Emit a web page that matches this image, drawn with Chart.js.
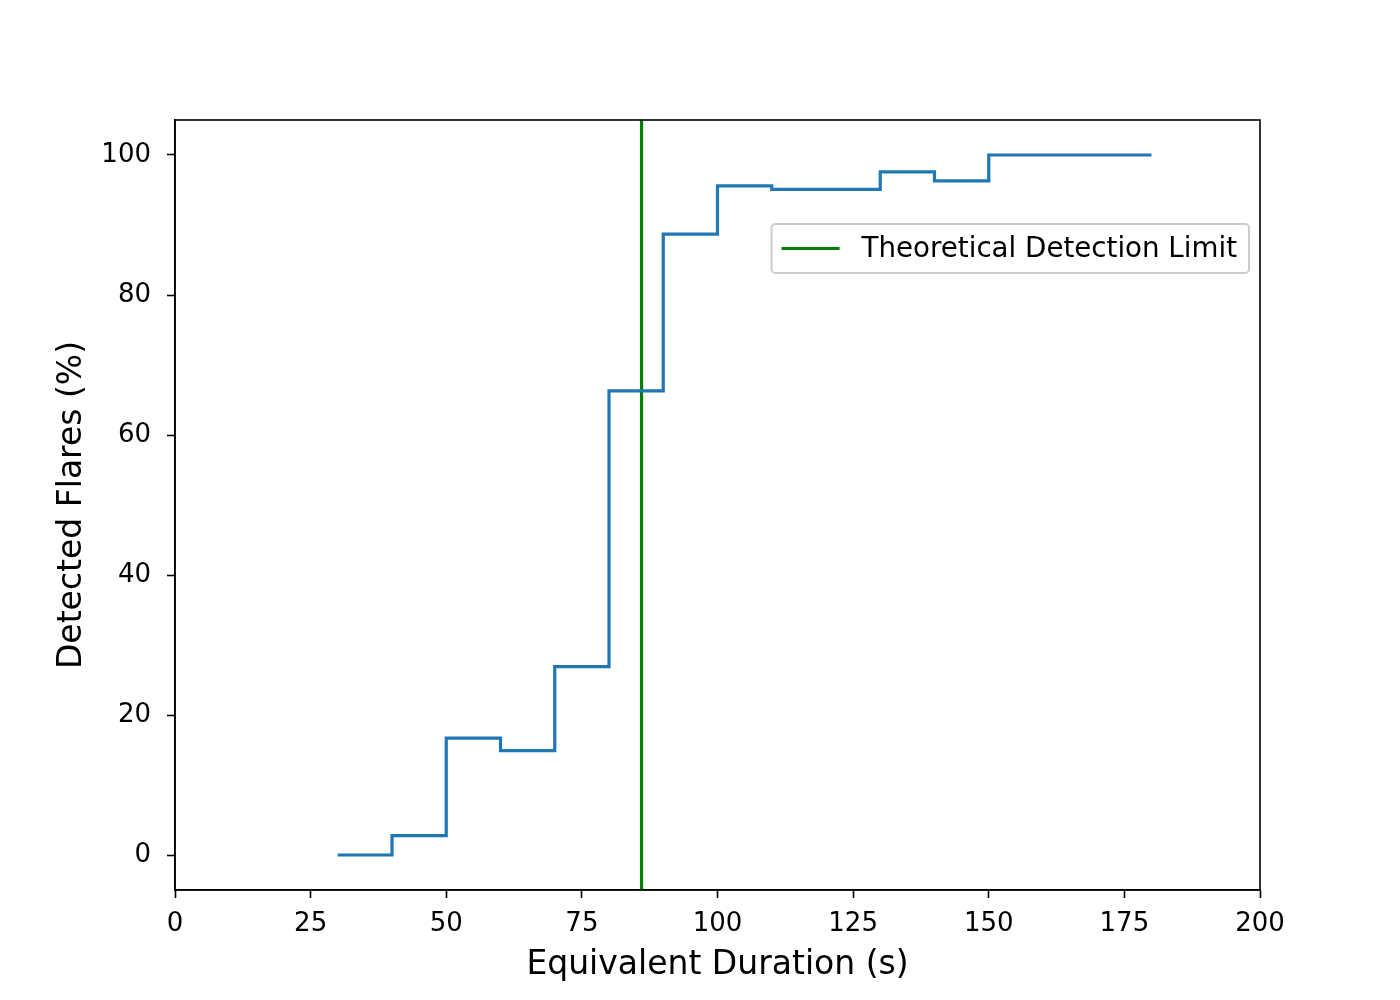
<!DOCTYPE html>
<html>
<head>
<meta charset="utf-8">
<script src="https://cdn.jsdelivr.net/npm/chart.js@4.4.1/dist/chart.umd.min.js"></script>
<style>
  html, body { margin: 0; padding: 0; background: #fff; }
  #wrap { width: 1400px; height: 1000px; }
</style>
</head>
<body>
<div id="wrap"><canvas id="grafico" width="1400" height="1000"></canvas></div>
<script>
// dados
const durations = [30, 40, 50, 60, 70, 80, 90, 100, 110, 120, 130, 140, 150, 160, 170, 180];
const detected = [0, 2.76, 16.7, 14.9, 26.9, 66.3, 88.7, 95.6, 95.1, 95.1, 97.6, 96.3, 100, 100, 100, 100];
const detectionLimit = 86;
const xTicks = [0, 25, 50, 75, 100, 125, 150, 175, 200];
const yTicks = [0, 20, 40, 60, 80, 100];
const xRange = [0, 200];
const yRange = [-5, 105];
const limitLabel = "Theoretical Detection Limit";

Chart.defaults.font.family = "'DejaVu Sans', sans-serif";
Chart.defaults.color = "#000";

// moldura completa (topo e direita também)
const frame = {
  id: 'frame',
  afterDraw(chart) {
    const { ctx, chartArea: a } = chart;
    ctx.save();
    ctx.strokeStyle = '#000';
    ctx.lineWidth = 1.6;
    ctx.strokeRect(a.left, a.top, a.right - a.left, a.bottom - a.top);
    ctx.restore();
  }
};

// legenda dentro da área do gráfico, estilo matplotlib
const innerLegend = {
  id: 'innerLegend',
  afterDatasetsDraw(chart) {
    const { ctx, chartArea: a } = chart;
    ctx.save();
    ctx.font = "27.7px 'DejaVu Sans'";
    const tw = ctx.measureText(limitLabel).width;
    const w = 10 + 58 + 22 + tw + 12;
    const h = 49;
    const x = a.right - 11 - w;
    const y = a.top + 104;
    ctx.beginPath();
    ctx.roundRect(x, y, w, h, 4);
    ctx.fillStyle = 'rgba(255,255,255,0.8)';
    ctx.fill();
    ctx.strokeStyle = '#cccccc';
    ctx.lineWidth = 2;
    ctx.stroke();
    ctx.beginPath();
    ctx.moveTo(x + 10, y + h / 2);
    ctx.lineTo(x + 68, y + h / 2);
    ctx.strokeStyle = 'green';
    ctx.lineWidth = 3;
    ctx.stroke();
    ctx.fillStyle = '#000';
    ctx.textBaseline = 'middle';
    ctx.fillText(limitLabel, x + 90, y + h / 2 + 1);
    ctx.restore();
  }
};

const ctx = document.getElementById('grafico').getContext('2d');

new Chart(ctx, {
  type: 'line',
  data: {
    datasets: [
      {
        label: 'Detected',
        data: durations.map((d, i) => ({ x: d, y: detected[i] })),
        borderColor: '#1f77b4',
        borderWidth: 3.2,
        stepped: 'before',
        pointRadius: 0,
        fill: false
      },
      {
        label: limitLabel,
        data: [{ x: detectionLimit, y: yRange[0] }, { x: detectionLimit, y: yRange[1] }],
        borderColor: 'green',
        borderWidth: 3.2,
        pointRadius: 0,
        fill: false
      }
    ]
  },
  options: {
    responsive: false,
    animation: false,
    layout: { padding: { left: 0, right: 140, top: 120, bottom: 0 } },
    plugins: {
      legend: { display: false },
      tooltip: { enabled: false }
    },
    scales: {
      x: {
        type: 'linear',
        min: xRange[0],
        max: xRange[1],
        afterBuildTicks: s => { s.ticks = xTicks.map(v => ({ value: v })); },
        afterFit: s => { s.height = 110; },
        grid: { drawOnChartArea: false, drawTicks: true, tickLength: 8, tickWidth: 1.6, tickColor: '#000' },
        border: { display: true, color: '#000', width: 1.6 },
        ticks: { font: { size: 26 }, padding: 11, maxRotation: 0 },
        title: { display: true, text: 'Equivalent Duration (s)', font: { size: 33 }, padding: { top: 0, bottom: 15 } }
      },
      y: {
        type: 'linear',
        min: yRange[0],
        max: yRange[1],
        afterBuildTicks: s => { s.ticks = yTicks.map(v => ({ value: v })); },
        afterFit: s => { s.width = 175; },
        grid: { drawOnChartArea: false, drawTicks: true, tickLength: 8, tickWidth: 1.6, tickColor: '#000' },
        border: { display: true, color: '#000', width: 1.6 },
        ticks: { font: { size: 26 }, padding: 16 },
        title: { display: true, text: 'Detected Flares (%)', font: { size: 33 }, padding: { top: 53, bottom: 0 } }
      }
    }
  },
  plugins: [frame, innerLegend]
});
</script>
</body>
</html>
